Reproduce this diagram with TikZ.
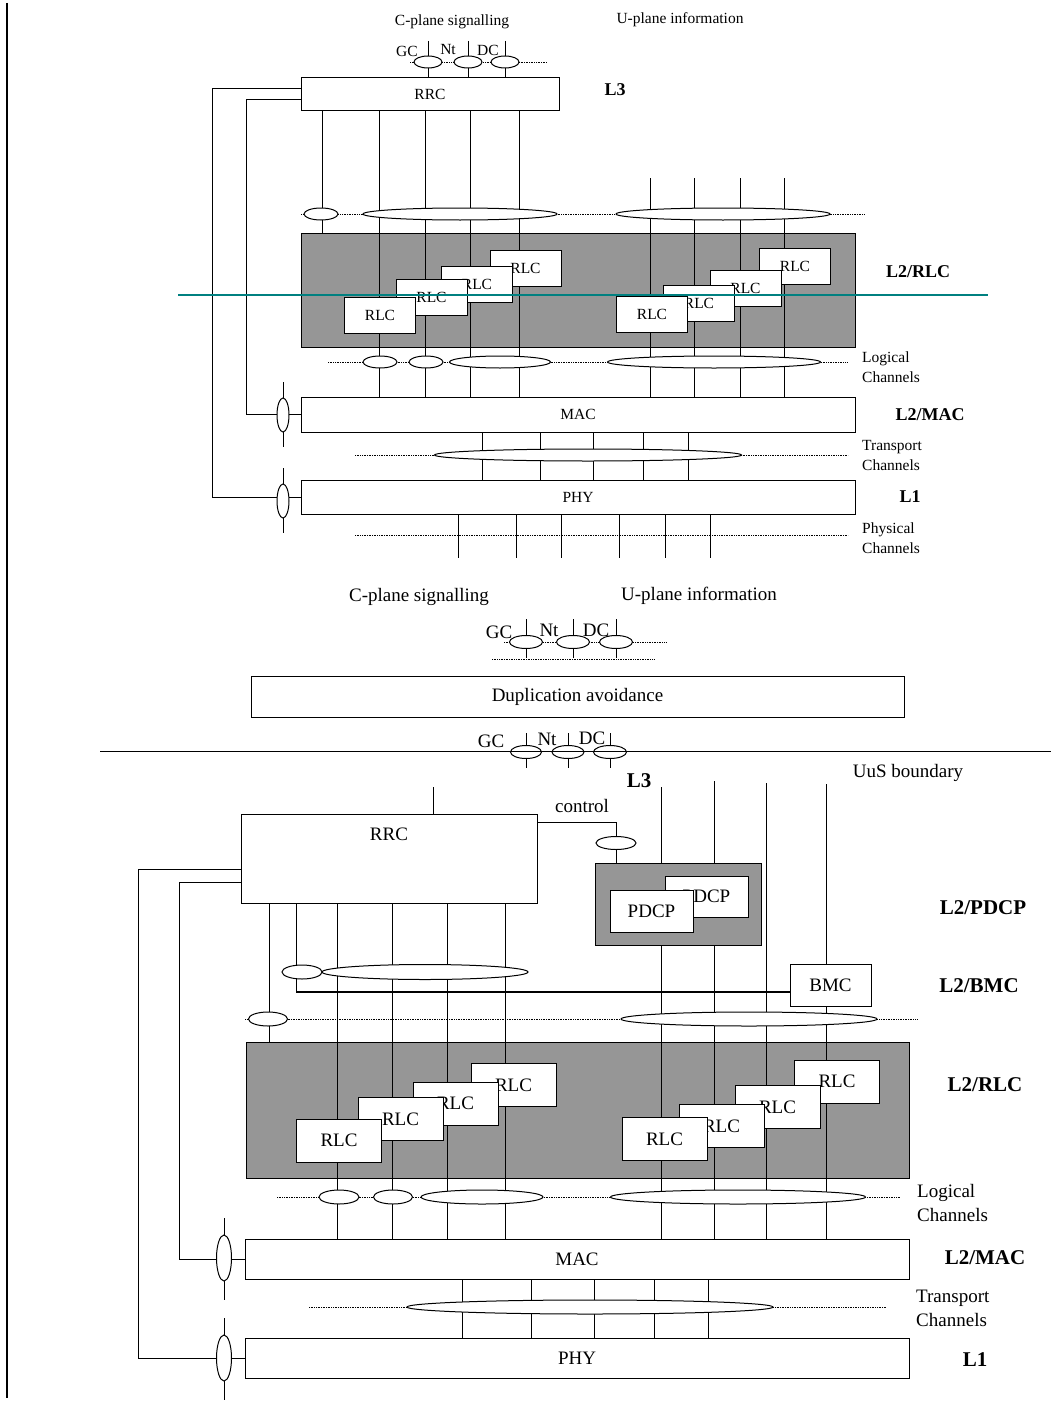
\documentclass[tikz,border=0pt]{standalone}
\usepackage{fontspec}
\setmainfont{Liberation Serif}
\usetikzlibrary{shapes.geometric}
\definecolor{rlcgrey}{RGB}{150,150,150}
\definecolor{tealline}{RGB}{0,128,128}
\pgfdeclarelayer{greys}
\pgfdeclarelayer{wires}
\pgfsetlayers{greys,wires,main}

\begin{document}
\begin{tikzpicture}[x=1pt, y=-1pt,
  box/.style={draw, fill=white, line width=1pt, inner sep=0pt},
  greybox/.style={draw, fill=rlcgrey, line width=1pt, inner sep=0pt},
  chan/.style={draw, fill=white, ellipse, line width=1pt, inner sep=0pt},
  wire/.style={line width=0.9pt},
  dots/.style={densely dotted, line width=0.7pt},
  txtU/.style={inner sep=0pt, font=\fontsize{15.5}{20}\selectfont},
  txtL/.style={inner sep=0pt, font=\fontsize{19}{24}\selectfont},
  layU/.style={inner sep=0pt, font=\bfseries\fontsize{18}{20}\selectfont},
  layL/.style={inner sep=0pt, font=\bfseries\fontsize{21}{24}\selectfont},
  rlcU/.style={box, txtU, minimum width=71, minimum height=36},
  rlcL/.style={box, txtL, minimum width=85, minimum height=43}
]
  \useasboundingbox (0,0) rectangle (1051,1402);

  \begin{pgfonlayer}{greys}
    \node[greybox, minimum width=554, minimum height=114] (rlcgU) at (578,290) {};
    \node[greybox, minimum width=166, minimum height=82] (pdcpgL) at (678,904) {};
    \node[greybox, minimum width=663, minimum height=136] (rlcgL) at (577.5,1110) {};
  \end{pgfonlayer}

  % upper stack
  \node[txtU] (cplaneU) at (452,22) {C-plane signalling};
  \node[txtU] (uplaneU) at (680,20) {U-plane information};
  \node[txtU] (gcU) at (407,51) {GC};
  \node[txtU] (ntU) at (448,50) {Nt};
  \node[txtU] (dcU) at (488,50) {DC};
  \node[chan, minimum width=28, minimum height=12] (gc1U) at (428,62) {};
  \node[chan, minimum width=28, minimum height=12] (gc2U) at (468,62) {};
  \node[chan, minimum width=28, minimum height=12] (gc3U) at (505,62) {};
  \node[box, txtU, minimum width=258, minimum height=33] (rrcU) at (430,94.5) {RRC};
  \node[layU] (l3U) at (615,90) {L3};

  \node[chan, minimum width=34, minimum height=12] (sigU) at (321,214) {};
  \node[chan, minimum width=194, minimum height=12] (srbU) at (460,214) {};
  \node[chan, minimum width=214, minimum height=12] (drbU) at (723,214) {};

  \node[rlcU] (rlca4U) at (525.5,268) {RLC};
  \node[rlcU] (rlca3U) at (477,284.5) {RLC};
  \node[rlcU] (rlca2U) at (431.5,297.5) {RLC};
  \node[rlcU] (rlca1U) at (380,315.5) {RLC};
  \node[rlcU] (rlcb4U) at (795,266) {RLC};
  \node[rlcU] (rlcb3U) at (745.5,288) {RLC};
  \node[rlcU] (rlcb2U) at (699,303.5) {RLC};
  \node[rlcU] (rlcb1U) at (652,314) {RLC};
  \node[layU] (l2rlcU) at (918,272) {L2/RLC};

  \node[chan, minimum width=34, minimum height=12] (lc1U) at (380,362) {};
  \node[chan, minimum width=34, minimum height=12] (lc2U) at (426,362) {};
  \node[chan, minimum width=101, minimum height=12] (lc3U) at (500,362) {};
  \node[chan, minimum width=213, minimum height=12] (lc4U) at (714,362) {};
  \node[txtU, align=left, anchor=west] (logU) at (862,367) {Logical\\Channels};

  \node[box, txtU, minimum width=554, minimum height=35] (macU) at (578,414.5) {MAC};
  \node[layU] (l2macU) at (930,415) {L2/MAC};
  \node[chan, minimum width=307, minimum height=12] (trU) at (588,455) {};
  \node[txtU, align=left, anchor=west] (trpU) at (862,455) {Transport\\Channels};
  \node[box, txtU, minimum width=554, minimum height=34] (phyU) at (578,497) {PHY};
  \node[layU] (l1U) at (910,497) {L1};
  \node[txtU, align=left, anchor=west] (physU) at (862,538) {Physical\\Channels};
  \node[chan, minimum width=12, minimum height=34] (macEU) at (283,415) {};
  \node[chan, minimum width=12, minimum height=34] (phyEU) at (283,501) {};

  % duplication avoidance
  \node[txtL] (cplaneM) at (419,597) {C-plane signalling};
  \node[txtL] (uplaneM) at (699,596) {U-plane information};
  \node[txtL] (gcM) at (499,632) {GC};
  \node[txtL] (ntM) at (549,630) {Nt};
  \node[txtL] (dcM) at (596,630) {DC};
  \node[chan, minimum width=33, minimum height=13] (gc1M) at (526,642) {};
  \node[chan, minimum width=33, minimum height=13] (gc2M) at (573,642) {};
  \node[chan, minimum width=33, minimum height=13] (gc3M) at (616,642) {};
  \node[box, txtL, minimum width=653, minimum height=41] (dupM) at (577.5,696.5) {Duplication avoidance};
  \node[txtL] (gcB) at (491,741) {GC};
  \node[txtL] (ntB) at (547,739) {Nt};
  \node[txtL] (dcB) at (592,738) {DC};
  \node[chan, minimum width=31, minimum height=13] (gc1B) at (526,752) {};
  \node[chan, minimum width=32, minimum height=13] (gc2B) at (568,752) {};
  \node[chan, minimum width=33, minimum height=13] (gc3B) at (610,752) {};

  % lower stack
  \node[layL] (l3L) at (639,781) {L3};
  \node[txtL] (uusL) at (908,773) {UuS boundary};
  \node[txtL] (ctrlT) at (582,806) {control};
  \node[box, minimum width=296, minimum height=89,
        label={[txtL, anchor=north, yshift=-14pt]north:RRC}] (rrcL) at (389,858.5) {};
  \node[chan, minimum width=40, minimum height=13] (ctrlL) at (616,843) {};
  \node[rlcL, minimum width=83, minimum height=41] (pdcp2L) at (706.5,896.5) {PDCP};
  \node[rlcL, minimum width=83, minimum height=42] (pdcp1L) at (651.5,911) {PDCP};
  \node[layL] (l2pdcpL) at (983,908) {L2/PDCP};
  \node[rlcL, minimum width=81, minimum height=42] (bmcL) at (830.5,985) {BMC};
  \node[layL] (l2bmcL) at (979,986) {L2/BMC};

  \node[chan, minimum width=40, minimum height=14] (sigL) at (302,972) {};
  \node[chan, minimum width=206, minimum height=15] (srbL) at (425,972) {};
  \node[chan, minimum width=39, minimum height=14] (bcL) at (268,1019) {};
  \node[chan, minimum width=256, minimum height=14] (drbL) at (749,1019) {};

  \node[rlcL] (rlca4L) at (513.5,1085) {RLC};
  \node[rlcL] (rlca3L) at (455.5,1103.5) {RLC};
  \node[rlcL] (rlca2L) at (400.5,1119) {RLC};
  \node[rlcL] (rlca1L) at (339,1140.5) {RLC};
  \node[rlcL] (rlcb4L) at (837,1081.5) {RLC};
  \node[rlcL] (rlcb3L) at (777.5,1107) {RLC};
  \node[rlcL] (rlcb2L) at (721.5,1126) {RLC};
  \node[rlcL] (rlcb1L) at (664.5,1139) {RLC};
  \node[layL] (l2rlcL) at (985,1085) {L2/RLC};

  \node[chan, minimum width=40, minimum height=14] (lc1L) at (339,1197) {};
  \node[chan, minimum width=39, minimum height=14] (lc2L) at (393,1197) {};
  \node[chan, minimum width=122, minimum height=14] (lc3L) at (482,1197) {};
  \node[chan, minimum width=255, minimum height=14] (lc4L) at (738,1197) {};
  \node[txtL, align=left, anchor=west] (logL) at (917,1203) {Logical\\Channels};

  \node[box, txtL, minimum width=664, minimum height=40] (macL) at (577,1259) {MAC};
  \node[layL] (l2macL) at (985,1258) {L2/MAC};
  \node[chan, minimum width=366, minimum height=14] (trL) at (590,1307) {};
  \node[txtL, align=left, anchor=west] (trpL) at (916,1308) {Transport\\Channels};
  \node[box, txtL, minimum width=664, minimum height=40] (phyL) at (577,1358) {PHY};
  \node[layL] (l1L) at (975,1360) {L1};
  \node[chan, minimum width=15, minimum height=46] (macEL) at (224,1258) {};
  \node[chan, minimum width=15, minimum height=46] (phyEL) at (224,1358) {};

  \begin{pgfonlayer}{wires}
    % upper
    \draw[dots] (410,62) -- (547,62);
    \foreach \n in {gc1U,gc2U,gc3U}
      \draw[wire] ([yshift=21pt]\n.center) -- (\n |- rrcU.north);
    \draw[wire] (322,0 |- rrcU.south) -- (322,0 |- rlcgU.north);
    \foreach \x in {379,425,470,519}
      \draw[wire] (\x,0 |- rrcU.south) -- (\x,0 |- macU.north);
    \foreach \x in {650,694,740,784}
      \draw[wire] (\x,178) -- (\x,0 |- macU.north);
    \draw[dots] (301,214) -- (864,214);
    \draw[dots] (328,362) -- (848,362);
    \draw[dots] (355,455) -- (848,455);
    \draw[dots] (355,535) -- (848,535);
    \foreach \x in {482,540,593,643,688}
      \draw[wire] (\x,0 |- macU.south) -- (\x,0 |- phyU.north);
    \foreach \x in {458,516,561,619,665,710}
      \draw[wire] (\x,0 |- phyU.south) -- (\x,558);
    \draw[wire] ([yshift=33pt]macEU.center) -- ([yshift=-32pt]macEU.center);
    \draw[wire] ([yshift=33pt]phyEU.center) -- ([yshift=-32pt]phyEU.center);
    \draw[wire] (rrcU.west |- 0,88) -- (212,88) -- (212,0 |- phyU.west) -- (phyU.west);
    \draw[wire] (rrcU.west |- 0,99) -- (246,99) -- (246,0 |- macU.west) -- (macU.west);

    % middle
    \draw[dots] (504,642) -- (667,642);
    \draw[dots] (492,659) -- (655,659);
    \foreach \n in {gc1M,gc2M,gc3M}
      \draw[wire] ([yshift=23pt]\n.center) -- ([yshift=-16pt]\n.center);
    \foreach \n in {gc1B,gc2B,gc3B}
      \draw[wire] ([yshift=19pt]\n.center) -- ([yshift=-16pt]\n.center);

    % lower
    \draw[wire] (433,787) -- (433,0 |- rrcL.north);
    \draw[wire] (rrcL.east |- 0,822) -- (ctrlL |- 0,822) -- (ctrlL |- pdcpgL.north);
    \draw[wire] (661,787) -- (661,0 |- pdcpgL.north);
    \draw[wire] (714,781) -- (714,0 |- pdcpgL.north);
    \draw[wire] (661,0 |- pdcpgL.south) -- (661,0 |- macL.north);
    \draw[wire] (714,0 |- pdcpgL.south) -- (714,0 |- macL.north);
    \draw[wire] (766,783) -- (766,0 |- macL.north);
    \draw[wire] (826,784) -- (826,0 |- bmcL.north);
    \draw[wire] (826,0 |- bmcL.south) -- (826,0 |- macL.north);
    \draw[wire] (269,0 |- rrcL.south) -- (269,0 |- rlcgL.north);
    \draw[wire] (296,0 |- rrcL.south) -- (296,992);
    \draw[line width=1.8pt] (296,992) -- (bmcL.west |- 0,992);
    \foreach \x in {337,392,447,505}
      \draw[wire] (\x,0 |- rrcL.south) -- (\x,0 |- macL.north);
    \draw[dots] (245,1019) -- (917,1019);
    \draw[dots] (277,1197) -- (900,1197);
    \draw[dots] (309,1307) -- (886,1307);
    \foreach \x in {462,531,594,654,708}
      \draw[wire] (\x,0 |- macL.south) -- (\x,0 |- phyL.north);
    \draw[wire] ([yshift=40pt]macEL.center) -- ([yshift=-42pt]macEL.center);
    \draw[wire] ([yshift=40pt]phyEL.center) -- ([yshift=-42pt]phyEL.center);
    \draw[wire] (rrcL.west |- 0,869) -- (138,869) -- (138,0 |- phyL.west) -- (phyL.west);
    \draw[wire] (rrcL.west |- 0,882) -- (179,882) -- (179,0 |- macL.west) -- (macL.west);
  \end{pgfonlayer}

  \draw[tealline, line width=1.8pt] (178,295) -- (988,295);
  \draw[line width=1pt] (100,751) -- (1051,751);
  \draw[line width=2pt] (7,3) -- (7,1398);
\end{tikzpicture}
\end{document}
